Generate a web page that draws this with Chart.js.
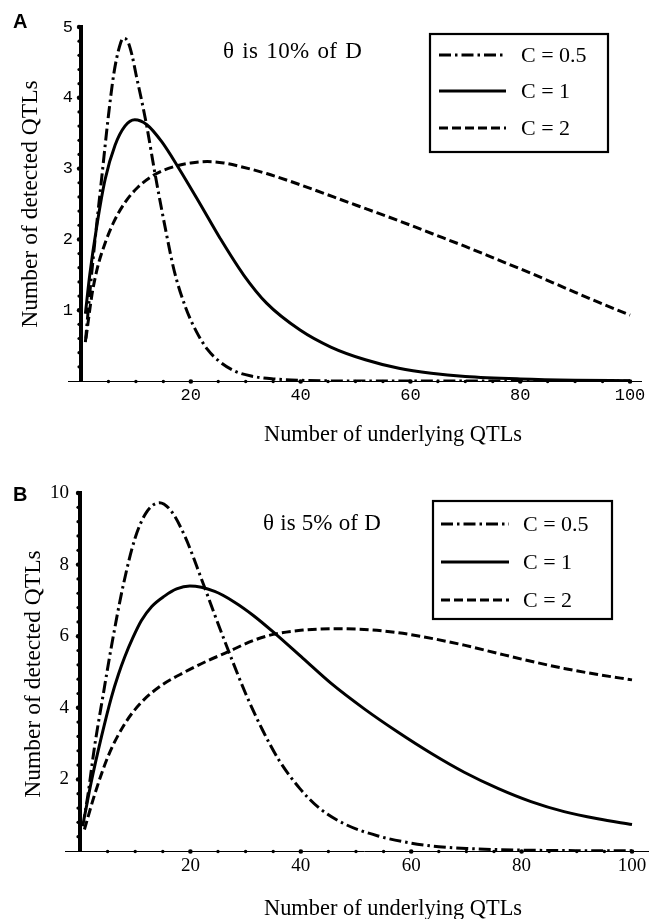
<!DOCTYPE html>
<html>
<head>
<meta charset="utf-8">
<script src="https://cdn.jsdelivr.net/npm/chart.js@4.4.1/dist/chart.umd.min.js"></script>
<style>
html,body{margin:0;padding:0;background:#fff;}
#wrap{position:relative;width:662px;height:919px;overflow:hidden;font-family:"Liberation Serif","Times New Roman",serif;color:#000;}
canvas{position:absolute;left:0;}
.t{position:absolute;white-space:nowrap;line-height:1;}
.c{transform:translate(-50%,-50%);}
.v{transform:translate(-50%,-50%) rotate(-90deg);}
.lbl{font-family:"Liberation Sans",Arial,sans-serif;font-weight:bold;font-size:20px;}
.th{font-size:23px;}
</style>
</head>
<body>
<div id="wrap">
  <canvas id="cA" width="662" height="460" style="top:0;width:662px;height:460px"></canvas>
  <canvas id="cB" width="662" height="459" style="top:460px;width:662px;height:459px"></canvas>
  <div class="t lbl" style="left:13px;top:11px">A</div>
  <div class="t lbl" style="left:13px;top:484px">B</div>
  <div class="t th" style="left:223px;top:39px;letter-spacing:0.3px;word-spacing:2px">θ is 10% of D</div>
  <div class="t th" style="left:263px;top:511px;word-spacing:0.5px">θ is 5% of D</div>
  <div class="t c" style="left:393px;top:434px;font-size:22.4px">Number of underlying QTLs</div>
  <div class="t c" style="left:393px;top:908px;font-size:22.4px">Number of underlying QTLs</div>
  <div class="t v" style="left:30px;top:204px;font-size:23.5px">Number of detected QTLs</div>
  <div class="t v" style="left:33px;top:674px;font-size:23.5px">Number of detected QTLs</div>
</div>
<script>
// ---------- data ----------
const seriesLabels = ['C = 0.5', 'C = 1', 'C = 2'];

// Panel A: theta is 10% of D
const aX_c05 = [0.8,1.6,2.5,3.8,5,6,7,7.7,8.5,9.3,10.1,11,12,13.5,15.3,17,19,21,23,25,28,31,35,40,50,100];
const aY_c05 = [0.55,1.24,1.95,2.89,3.75,4.35,4.72,4.84,4.8,4.6,4.3,3.98,3.59,2.92,2.18,1.55,1.05,0.7,0.45,0.29,0.14,0.07,0.03,0.01,0,0];
const aX_c1 = [0.8,1.6,2.9,4.4,6.2,8,9.8,12,14.7,17.7,21.7,25.3,29.6,33.8,39.9,45.5,51.8,57.9,63.8,70,80,90,100];
const aY_c1 = [0.95,1.5,2.2,2.85,3.33,3.6,3.69,3.62,3.38,3.02,2.5,2.02,1.5,1.1,0.72,0.48,0.3,0.18,0.11,0.065,0.03,0.012,0.005];
const aX_c2 = [0.9,2,3,4.4,6,8,10.4,13.5,17,20,23,26,29,33.8,40,46,52,58,64,70,76,82,88,94,100];
const aY_c2 = [0.6,1.22,1.6,1.95,2.25,2.52,2.74,2.92,3.03,3.08,3.1,3.08,3.03,2.93,2.77,2.6,2.43,2.26,2.08,1.9,1.71,1.52,1.32,1.12,0.93];

// Panel B: theta is 5% of D
const bX_c05 = [0.5,1.4,2.65,4.15,5.7,7.8,10,12,14.4,16.5,19,22,24.4,27,30,33,36,39.8,43.5,48,54,60,65,70,80,90,100];
const bY_c05 = [0.69,1.53,2.93,4.32,5.72,7.4,8.75,9.45,9.73,9.5,8.79,7.6,6.6,5.55,4.4,3.4,2.55,1.75,1.18,0.75,0.42,0.22,0.12,0.07,0.025,0.01,0.005];
const bX_c1 = [0.8,2,3.9,5.7,7,8.1,9.5,11.1,13,15.3,17.5,19.9,24.4,28,31.4,35,40.4,45.5,51.5,57.5,63.6,69.6,75.7,81.7,87.7,93.8,100];
const bY_c1 = [0.95,1.9,3.2,4.3,4.95,5.42,5.93,6.43,6.83,7.12,7.32,7.4,7.25,6.95,6.58,6.12,5.38,4.68,3.97,3.33,2.73,2.2,1.75,1.38,1.1,0.9,0.74];
const bX_c2 = [0.8,2.6,5.1,8.1,11.1,14.7,19,23.2,26.2,31.4,35,40.4,46.5,52.5,57.5,61.6,69.6,75.7,81.7,87.7,93.8,100];
const bY_c2 = [0.6,1.55,2.65,3.55,4.15,4.62,5.0,5.32,5.52,5.88,6.05,6.17,6.21,6.18,6.1,6.0,5.75,5.52,5.3,5.1,4.93,4.78];

// axis tick settings
const xTickStep = 5, xLabelEvery = 20;
const aYTickStep = 0.2, aYLabelEvery = 1;
const bYTickStep = 0.4, bYLabelEvery = 2;

// ---------- helpers ----------
const pts = (xs, ys) => xs.map((x, i) => ({x: x, y: ys[i]}));
const dashStyles = [[12,4,2.5,4], [], [9,4]];
function makeDatasets(sets) {
  return sets.map((s, i) => ({
    label: seriesLabels[i],
    data: pts(s[0], s[1]),
    borderColor: '#000',
    borderWidth: 3,
    borderDash: dashStyles[i],
    pointRadius: 0,
    fill: false,
    cubicInterpolationMode: 'monotone'
  }));
}
const isMult = (v, m) => Math.abs(v / m - Math.round(v / m)) < 1e-6;

const tickDots = {
  id: 'tickDots',
  afterDatasetsDraw(chart, args, o) {
    const ctx = chart.ctx, xs = chart.scales.x, ys = chart.scales.y;
    const y0 = ys.getPixelForValue(0), x0 = xs.getPixelForValue(0);
    ctx.save();
    ctx.fillStyle = '#000';
    ctx.strokeStyle = '#000';
    ctx.lineWidth = 1;
    ctx.beginPath(); ctx.moveTo(x0 - o.xExtLeft, y0 + 0.5); ctx.lineTo(x0, y0 + 0.5); ctx.stroke();
    xs.ticks.forEach(t => {
      if (t.value <= 0) return;
      const px = xs.getPixelForValue(t.value);
      const r = isMult(t.value, o.xMajor) ? 2.3 : 1.7;
      ctx.beginPath(); ctx.arc(px, y0 + 0.5, r, 0, Math.PI * 2); ctx.fill();
    });
    ys.ticks.forEach(t => {
      if (t.value <= 0) return;
      const py = ys.getPixelForValue(t.value);
      const r = isMult(t.value, o.yMajor) ? 2.2 : 1.6;
      ctx.beginPath(); ctx.arc(x0 - 2, py, r, 0, Math.PI * 2); ctx.fill();
    });
    ctx.restore();
  }
};

const boxLegend = {
  id: 'boxLegend',
  afterDraw(chart, args, o) {
    const ctx = chart.ctx;
    ctx.save();
    ctx.strokeStyle = '#000';
    ctx.lineWidth = 2.2;
    ctx.strokeRect(o.left, o.top, o.width, o.height);
    chart.data.datasets.forEach((ds, i) => {
      const y = o.rows[i];
      ctx.lineWidth = ds.borderWidth;
      ctx.setLineDash(ds.borderDash || []);
      ctx.beginPath(); ctx.moveTo(o.lineX0, y); ctx.lineTo(o.lineX1, y); ctx.stroke();
      ctx.setLineDash([]);
      ctx.fillStyle = '#000';
      ctx.font = o.font;
      ctx.textBaseline = 'middle';
      ctx.textAlign = 'left';
      ctx.fillText(ds.label, o.textX, y + 1);
    });
    ctx.restore();
  }
};

function makeChart(id, datasets, cfg) {
  return new Chart(document.getElementById(id), {
    type: 'line',
    data: { datasets: datasets },
    plugins: [tickDots, boxLegend],
    options: {
      responsive: false,
      animation: false,
      devicePixelRatio: 1,
      layout: { padding: cfg.padding },
      plugins: {
        legend: { display: false },
        tooltip: { enabled: false },
        tickDots: cfg.dots,
        boxLegend: cfg.legend
      },
      scales: {
        x: {
          type: 'linear', position: 'bottom',
          min: 0, max: cfg.xMax,
          afterFit: s => { s.height = cfg.xAxisH; },
          grid: { display: false, drawTicks: false },
          border: { display: true, color: '#000', width: 1 },
          ticks: {
            stepSize: xTickStep, includeBounds: false, autoSkip: false, maxRotation: 0,
            color: '#000', padding: cfg.xPad, font: cfg.xFont,
            callback: v => (v > 0 && isMult(v, xLabelEvery)) ? String(v) : ''
          }
        },
        y: {
          type: 'linear', position: 'left',
          min: 0, max: cfg.yMax,
          afterFit: s => { s.width = cfg.yAxisW; },
          grid: { display: false, drawTicks: false },
          border: { display: true, color: '#000', width: 4 },
          ticks: {
            stepSize: cfg.yStep, includeBounds: false, autoSkip: false,
            color: '#000', padding: cfg.yPad, font: cfg.yFont,
            callback: v => (v > 0 && isMult(v, cfg.yEvery)) ? String(Math.round(v)) : ''
          }
        }
      }
    }
  });
}

makeChart('cA', makeDatasets([[aX_c05, aY_c05], [aX_c1, aY_c1], [aX_c2, aY_c2]]), {
  padding: { left: 0, right: 21, top: 27, bottom: 0 },
  xMax: 102, xAxisH: 79, yAxisW: 81, yMax: 5,
  yStep: aYTickStep, yEvery: aYLabelEvery,
  xPad: 4, yPad: 8,
  xFont: { family: "'Liberation Mono', 'Courier New', monospace", size: 17 },
  yFont: { family: "'Liberation Mono', 'Courier New', monospace", size: 17 },
  dots: { xMajor: xLabelEvery, yMajor: aYLabelEvery, xExtLeft: 13 },
  legend: { left: 430, top: 34, width: 178, height: 118, rows: [55, 91, 128], lineX0: 439, lineX1: 506, textX: 521, font: "22px 'Liberation Serif'" }
});

makeChart('cB', makeDatasets([[bX_c05, bY_c05], [bX_c1, bY_c1], [bX_c2, bY_c2]]), {
  padding: { left: 0, right: 14, top: 33, bottom: 0 },
  xMax: 102.9, xAxisH: 68, yAxisW: 80, yMax: 10,
  yStep: bYTickStep, yEvery: bYLabelEvery,
  xPad: 4, yPad: 11,
  xFont: { family: "'Liberation Serif', 'Times New Roman', serif", size: 19 },
  yFont: { family: "'Liberation Serif', 'Times New Roman', serif", size: 19 },
  dots: { xMajor: xLabelEvery, yMajor: bYLabelEvery, xExtLeft: 15 },
  legend: { left: 433, top: 41, width: 179, height: 118, rows: [64, 102, 140], lineX0: 441, lineX1: 509, textX: 523, font: "22px 'Liberation Serif'" }
});
</script>
</body>
</html>
